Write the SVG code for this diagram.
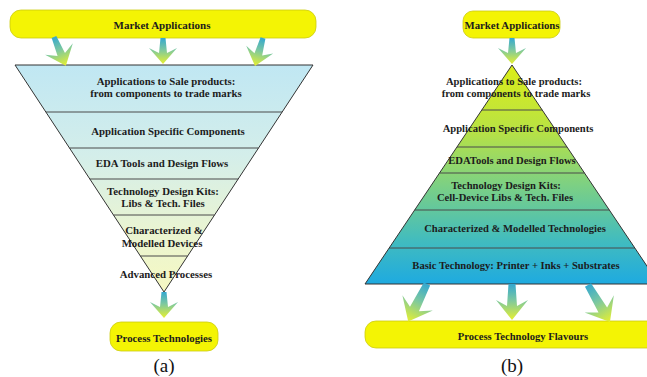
<svg xmlns="http://www.w3.org/2000/svg" width="647" height="377" viewBox="0 0 647 377">
<style>
.t{font-family:"Liberation Serif","Times New Roman",serif;font-weight:bold;fill:#1c1c1c;text-anchor:middle}
.ta{font-size:10.8px}
.tb{font-size:10.6px}
.bar{fill:#f4f404;stroke:#cccc10;stroke-width:0.8}
.edge{fill:none;stroke:#333;stroke-width:1}
.div{stroke:#4a4a4a;stroke-width:1}
.arr{fill:url(#ag)}
.cap{font-family:"Liberation Serif","Times New Roman",serif;font-size:19px;fill:#111;text-anchor:middle}
</style>
<defs>
<linearGradient id="ag" x1="0" y1="0" x2="0" y2="1">
<stop offset="0" stop-color="#34a8d0"/>
<stop offset="0.45" stop-color="#7cc8a0"/>
<stop offset="1" stop-color="#e6f030"/>
</linearGradient>
<linearGradient id="ga" gradientUnits="userSpaceOnUse" x1="0" y1="65" x2="0" y2="292">
<stop offset="0" stop-color="#c0e7f3"/>
<stop offset="0.4" stop-color="#d4eeea"/>
<stop offset="0.7" stop-color="#e8f4d4"/>
<stop offset="1" stop-color="#f6f8c2"/>
</linearGradient>
<linearGradient id="gb" gradientUnits="userSpaceOnUse" x1="0" y1="65" x2="0" y2="284">
<stop offset="0" stop-color="#dcee18"/>
<stop offset="0.3" stop-color="#b8e244"/>
<stop offset="0.55" stop-color="#7cd084"/>
<stop offset="0.8" stop-color="#42bcbe"/>
<stop offset="1" stop-color="#1eaae0"/>
</linearGradient>
</defs>

<g id="a-market">
<rect class="bar" x="10" y="10" width="306" height="28" rx="11"/>
<text class="t" x="162" y="28.5" font-size="11px">Market Applications</text>
</g>

<g id="a-pyramid">
<polygon points="15,65 313,65 164,292" fill="url(#ga)"/>
<line class="div" x1="45.9" y1="112" x2="282.1" y2="112"/>
<line class="div" x1="69.5" y1="148" x2="258.5" y2="148"/>
<line class="div" x1="89.8" y1="179" x2="238.2" y2="179"/>
<line class="div" x1="113.5" y1="215" x2="214.5" y2="215"/>
<line class="div" x1="140.4" y1="256" x2="187.6" y2="256"/>
<polygon class="edge" points="15,65 313,65 164,292"/>
</g>
<g id="a-l1"><text class="t ta" x="166" y="84.5">Applications to Sale products:</text><text class="t ta" x="166" y="96.5">from components to trade marks</text></g>
<g id="a-l2"><text class="t ta" x="168" y="135">Application Specific Components</text></g>
<g id="a-l3"><text class="t ta" x="162" y="167">EDA Tools and Design Flows</text></g>
<g id="a-l4"><text class="t ta" x="163" y="194.5">Technology Design Kits:</text><text class="t ta" x="163" y="207">Libs &amp; Tech. Files</text></g>
<g id="a-l5"><text class="t ta" x="164" y="234">Characterized &amp;</text><text class="t ta" x="162" y="247">Modelled Devices</text></g>
<g id="a-l6"><text class="t ta" x="166" y="278">Advanced Processes</text></g>

<g id="a-process">
<rect class="bar" x="110" y="322" width="108" height="29" rx="11"/>
<text class="t" x="164" y="342" font-size="10.8px">Process Technologies</text>
</g>

<g id="b-market">
<rect class="bar" x="463" y="11" width="97" height="27" rx="10"/>
<text class="t" x="512" y="29" font-size="10.8px">Market Applications</text>
</g>

<g id="b-pyramid">
<polygon points="512,65 659,284 365,284" fill="url(#gb)"/>
<line class="div" x1="481.8" y1="110" x2="542.2" y2="110"/>
<line class="div" x1="457" y1="147" x2="567" y2="147"/>
<line class="div" x1="439.5" y1="173" x2="584.5" y2="173"/>
<line class="div" x1="414.7" y1="210" x2="609.3" y2="210"/>
<line class="div" x1="389.2" y1="248" x2="634.8" y2="248"/>
<polygon class="edge" points="512,65 659,284 365,284"/>
</g>
<g id="b-l1"><text class="t tb" x="514" y="85">Applications to Sale products:</text><text class="t tb" x="516" y="96.5">from components to trade marks</text></g>
<g id="b-l2"><text class="t tb" x="518" y="132">Application Specific Components</text></g>
<g id="b-l3"><text class="t tb" x="512" y="164">EDATools and Design Flows</text></g>
<g id="b-l4"><text class="t tb" x="506" y="189">Technology Design Kits:</text><text class="t tb" x="505" y="201">Cell-Device Libs &amp; Tech. Files</text></g>
<g id="b-l5"><text class="t tb" x="515" y="232">Characterized &amp; Modelled Technologies</text></g>
<g id="b-l6"><text class="t tb" x="516" y="269">Basic Technology: Printer + Inks + Substrates</text></g>

<g id="b-process">
<rect class="bar" x="365" y="321" width="340" height="27" rx="11"/>
<text class="t" x="523" y="340" font-size="10.6px">Process Technology Flavours</text>
</g>

<g id="connectors">
<path class="arr" transform="translate(54,37) rotate(-22.5)" d="M-2.5,0H2.5L4,19L15,13L0,31L-15,13L-4,19Z"/>
<path class="arr" transform="translate(163,38)" d="M-2.5,0H2.5L4,15L14,10L0,26L-14,10L-4,15Z"/>
<path class="arr" transform="translate(263,38) rotate(16)" d="M-2.5,0H2.5L4,17L14,12L0,29L-14,12L-4,17Z"/>
<path class="arr" transform="translate(164,292)" d="M-2.5,0H2.5L4,15L14,10L0,26L-14,10L-4,15Z"/>
<path class="arr" transform="translate(512,38)" d="M-2.5,0H2.5L4,15L14,10L0,26L-14,10L-4,15Z"/>
<path class="arr" transform="translate(427,284) rotate(26.6)" d="M-3.5,0H3.5L5,28L17,21L0,42L-17,21L-5,28Z"/>
<path class="arr" transform="translate(512,284)" d="M-3.5,0H3.5L5,22L16,16L0,36L-16,16L-5,22Z"/>
<path class="arr" transform="translate(588,285) rotate(-30.7)" d="M-3.5,0H3.5L5,29L17,22L0,43L-17,22L-5,29Z"/>
</g>

<text class="cap" x="164" y="372">(a)</text>
<text class="cap" x="512" y="372">(b)</text>
</svg>
